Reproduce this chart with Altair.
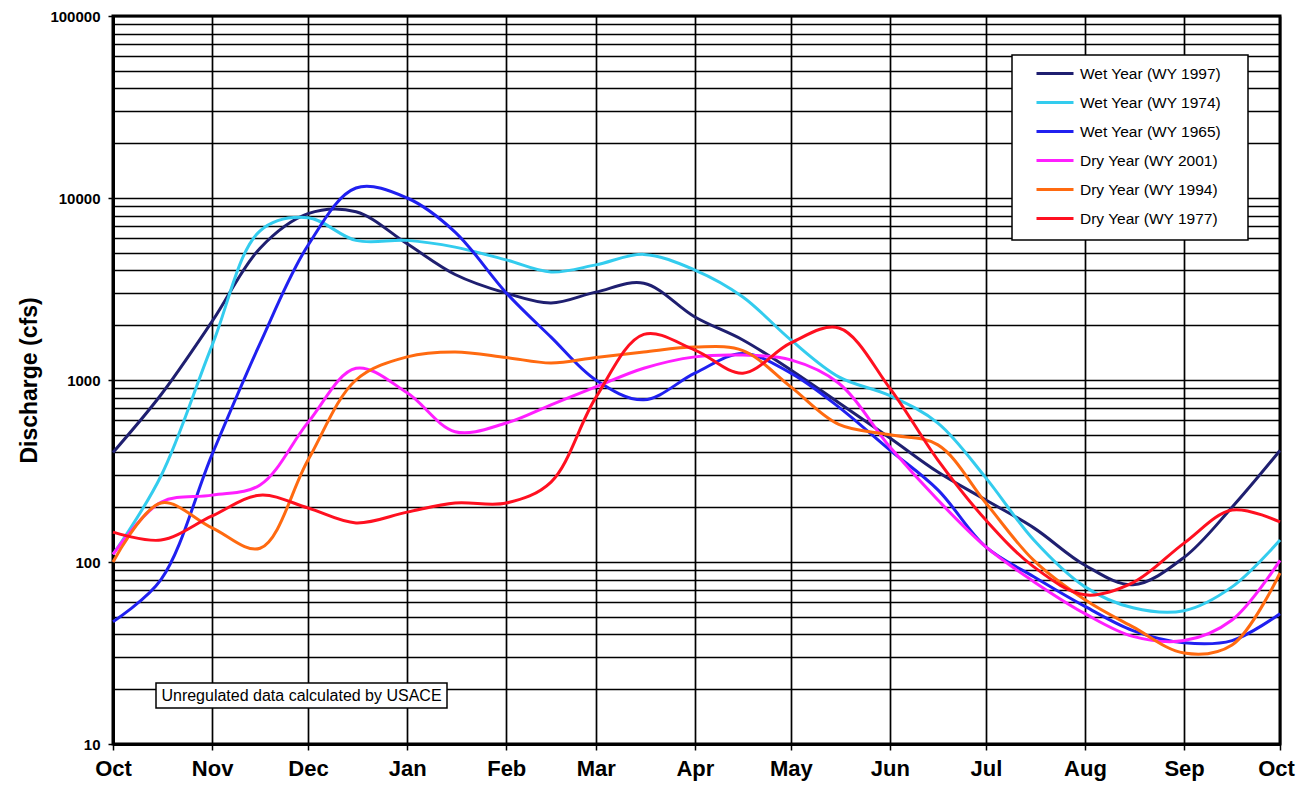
import altair as alt
import pandas as pd

# ---------------- data ----------------
month_labels = ["Oct", "Nov", "Dec", "Jan", "Feb", "Mar", "Apr", "May", "Jun", "Jul", "Aug", "Sep", "Oct"]
month_start_days = [0, 31, 61, 92, 123, 151, 182, 212, 243, 273, 304, 335, 365]

# sample points: month starts and mid-months (days since Oct 1)
sample_days = [0, 15, 31, 46, 61, 76, 92, 107, 123, 137, 151, 166, 182,
               197, 212, 227, 243, 258, 273, 288, 304, 319, 335, 350, 365]

series_names = ["Wet Year (WY 1997)", "Wet Year (WY 1974)", "Wet Year (WY 1965)",
                "Dry Year (WY 2001)", "Dry Year (WY 1994)", "Dry Year (WY 1977)"]

wet_1997 = [400, 830, 2100, 5300, 8200, 8400, 5600, 3800, 3000, 2650, 3040, 3400, 2220,
            1660, 1135, 750, 480, 312, 219, 154, 96, 75, 106, 200, 410]
wet_1974 = [110, 297, 1550, 6600, 7800, 5850, 5850, 5370, 4570, 3920, 4290, 4900, 4020,
            2860, 1660, 1040, 820, 580, 290, 132, 73, 56, 54, 73, 132]
wet_1965 = [47, 80, 390, 1590, 5500, 11350, 10000, 6500, 3010, 1720, 1000, 778, 1090,
            1400, 1090, 710, 412, 249, 121, 83, 57, 42, 36, 37, 52]
dry_2001 = [110, 213, 233, 265, 585, 1160, 850, 520, 580, 730, 916, 1160, 1340,
            1370, 1290, 960, 428, 219, 121, 78, 52, 39, 37, 48, 102]
dry_1994 = [100, 211, 154, 119, 363, 1000, 1340, 1425, 1330, 1240, 1330, 1425, 1517,
            1450, 916, 570, 500, 440, 211, 102, 62, 44, 31.6, 35, 87]
dry_1977 = [146, 132, 179, 233, 198, 164, 188, 211, 211, 275, 800, 1780, 1460,
            1090, 1600, 1930, 900, 363, 170, 94, 66, 77, 127, 193, 166]

series_values = [wet_1997, wet_1974, wet_1965, dry_2001, dry_1994, dry_1977]
series_colors = ["#1F1F70", "#33CCEE", "#2020F0", "#FF1FFF", "#FF6A10", "#FF1020"]

y_grid_values = [k * 10 ** e for e in range(1, 5) for k in range(1, 10)] + [100000]
decade_values = [10, 100, 1000, 10000, 100000]

note_text = "Unregulated data calculated by USACE"

rows = []
for name, vals in zip(series_names, series_values):
    for d, v in zip(sample_days, vals):
        rows.append({"series": name, "day": d, "cfs": v})
df = pd.DataFrame(rows)

FONT = "Liberation Sans"

x_label_expr = ("[" + ",".join("'%s'" % m for m in month_labels) + "][indexof(["
                + ",".join(str(d) for d in month_start_days) + "], datum.value)]")
last_day_test = "datum.value == %d" % month_start_days[-1]
decade_test = "indexof([" + ",".join(str(v) for v in decade_values) + "], datum.value) >= 0"
y_label_expr = decade_test + " ? format(datum.value, 'd') : ''"

x_enc = alt.X(
    "day:Q",
    scale=alt.Scale(domain=[0, 365], nice=False, zero=False),
    axis=alt.Axis(
        values=month_start_days, labelExpr=x_label_expr, title=None,
        grid=True, gridColor="black", gridWidth=1.7,
        domain=True, domainColor="black", domainWidth=3,
        ticks=True, tickColor="black", tickSize=6, tickWidth=1.5,
        labelFont=FONT, labelFontSize=22, labelFontWeight="bold", labelColor="black",
        labelPadding=8, labelOverlap=False, labelFlush=False,
        labelOffset={"condition": {"test": last_day_test, "value": -4}, "value": 0},
    ),
)

y_enc = alt.Y(
    "cfs:Q",
    scale=alt.Scale(type="log", domain=[10, 100000], nice=False),
    axis=alt.Axis(
        values=y_grid_values, labelExpr=y_label_expr,
        title="Discharge (cfs)", titleFont=FONT, titleFontSize=23, titleFontWeight="bold",
        titleColor="black", titlePadding=8,
        grid=True, gridColor="black", gridWidth=1.7,
        domain=True, domainColor="black", domainWidth=3,
        ticks=True, tickColor="black", tickSize=5, tickWidth=1.5,
        tickOpacity={"condition": {"test": decade_test, "value": 1}, "value": 0},
        labelFont=FONT, labelFontSize=15, labelFontWeight="bold", labelColor="black",
        labelPadding=8, labelOverlap=False, labelFlush=False,
    ),
)

lines = alt.Chart(df).mark_line(strokeWidth=3, interpolate="catmull-rom").encode(
    x=x_enc,
    y=y_enc,
    color=alt.Color(
        "series:N",
        scale=alt.Scale(domain=series_names, range=series_colors),
        sort=series_names,
        legend=alt.Legend(
            title=None, orient="none", legendX=922, legendY=37.5, direction="vertical",
            symbolType="stroke", symbolSize=1369, symbolStrokeWidth=3,
            rowPadding=-6, padding=0, offset=0,
            labelFont=FONT, labelFontSize=15.5, labelColor="black",
            labelOffset=5, labelLimit=400,
        ),
    ),
    detail="series:N",
)

note_df = pd.DataFrame({"note": [note_text]})

legend_box = alt.Chart(note_df).mark_rect(fill="white", stroke="black", strokeWidth=1.5).encode(
    x=alt.value(899), x2=alt.value(1135), y=alt.value(39), y2=alt.value(224)
)

note_box = alt.Chart(note_df).mark_rect(fill="white", stroke="black", strokeWidth=1.5).encode(
    x=alt.value(43), x2=alt.value(334), y=alt.value(667), y2=alt.value(692)
)
note_label = alt.Chart(note_df).mark_text(
    font=FONT, fontSize=16, color="black", align="center", baseline="middle"
).encode(x=alt.value(188.5), y=alt.value(680), text="note:N")

chart = alt.layer(lines, legend_box, note_box, note_label).properties(
    width=1167,
    height=728,
    autosize=alt.AutoSizeParams(type="none"),
    padding={"left": 105, "top": 8, "right": 16, "bottom": 37},
    background="white",
).configure_view(stroke="black", strokeWidth=3)

chart.save("out.html", embed_options={"renderer": "svg", "actions": False})
